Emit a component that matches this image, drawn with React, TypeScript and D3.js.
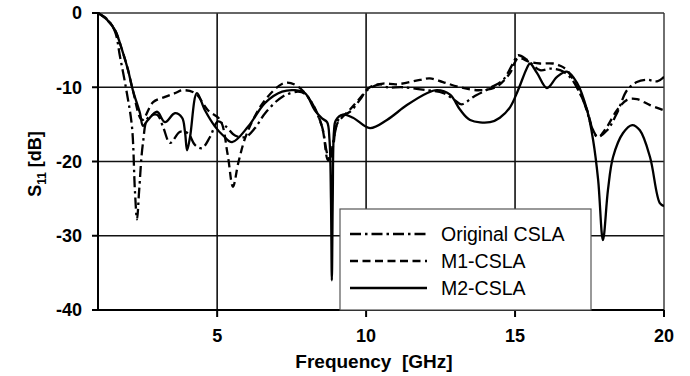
import React from "react";
import * as d3 from "d3";

// Frequency [GHz], S11 [dB]
const originalF = [1.0, 1.3, 1.57, 1.74, 1.97, 2.14, 2.24, 2.31, 2.38, 2.51, 2.68, 2.98, 3.18, 3.42, 3.75, 4.02, 4.26, 4.49, 4.76, 5.03, 5.3, 5.6, 5.95, 6.27, 6.61, 7.18, 7.71, 7.95, 8.18, 8.52, 8.69, 8.79, 8.89, 9.02, 9.12, 9.46, 9.79, 10.03, 10.47, 10.7, 11.24, 12.04, 12.6, 13.0, 13.2, 13.6, 14.16, 14.6, 14.93, 15.1, 15.4, 15.84, 16.17, 16.51, 16.84, 17.28, 17.62, 17.77, 18.09, 18.42, 18.76, 19.09, 19.43, 19.77, 20.0];
const originalS = [0, -0.8, -2.5, -5.9, -10.8, -15.3, -24, -27.8, -24, -17.5, -14.1, -13.7, -15.3, -17.5, -16, -16.2, -17.8, -18.2, -16.7, -14.6, -15.3, -16.5, -16.7, -15.5, -13.5, -11.3, -10.6, -10.9, -12.1, -15.3, -18.9, -19.8, -17.5, -15, -14, -13.3, -11.7, -10.4, -9.6, -10, -10, -10.4, -10.8, -11.8, -12.3, -11.3, -10.1, -9.0, -6.8, -5.7, -6.3, -7.7, -7.5, -7.7, -8.6, -11.7, -15.8, -16.7, -15.8, -13.5, -10.4, -9.3, -9.0, -9.2, -8.6];

const m1F = [1.0, 1.3, 1.57, 1.81, 2.01, 2.17, 2.48, 2.85, 3.25, 3.58, 3.85, 4.26, 4.69, 5.1, 5.35, 5.53, 5.72, 6.0, 6.61, 7.28, 7.71, 8.18, 8.52, 8.72, 8.89, 9.02, 9.46, 9.79, 10.13, 10.57, 11.04, 11.81, 12.14, 12.58, 13.15, 13.82, 14.39, 14.83, 15.1, 15.5, 15.84, 16.27, 16.51, 16.74, 17.08, 17.42, 17.62, 17.79, 18.09, 18.42, 18.76, 19.09, 19.53, 20.0];
const m1S = [0, -0.9, -2.3, -5, -7.7, -10.4, -14.4, -12, -11.3, -10.8, -10.4, -10.8, -13.1, -14.4, -19, -23.4, -20, -16.2, -11.7, -9.4, -9.9, -12.1, -15.3, -19.8, -18, -15, -13, -11.5, -10, -9.5, -9.6, -9.0, -8.8, -9.3, -10, -10.4, -9.9, -8.1, -6.1, -6.6, -6.8, -6.8, -7.1, -7.7, -10, -13.1, -15.8, -16.7, -15.3, -13.1, -11.7, -11.6, -12.4, -13.1];

const m2F = [1.0, 1.3, 1.57, 1.81, 2.01, 2.17, 2.41, 2.51, 2.68, 2.98, 3.25, 3.58, 3.82, 3.92, 3.99, 4.09, 4.32, 4.59, 4.93, 5.2, 5.5, 6.04, 6.61, 7.18, 7.61, 7.95, 8.28, 8.52, 8.69, 8.77, 8.82, 8.85, 8.88, 8.92, 8.98, 9.22, 9.56, 10.13, 10.7, 11.37, 12.04, 12.38, 12.82, 13.15, 13.49, 14.16, 14.49, 14.83, 15.1, 15.4, 15.5, 15.74, 16.07, 16.41, 16.74, 17.08, 17.42, 17.62, 17.79, 17.95, 18.12, 18.29, 18.62, 18.93, 19.19, 19.53, 19.86, 20.0];
const m2S = [0, -0.9, -2.3, -5, -7.7, -10.4, -13.5, -15.2, -14.4, -13.3, -14.7, -13.5, -14.1, -16, -18.5, -16.7, -10.8, -13.1, -15.3, -16.5, -17.4, -15.3, -12.1, -10.6, -10.4, -10.8, -13.1, -14.2, -14.7, -17, -25, -36, -25, -16, -14.5, -13.7, -14.1, -15.5, -14.4, -12.4, -10.8, -10.4, -11, -13, -14.4, -14.7, -14.1, -12.7, -10.4, -7.4, -6.8, -8.1, -10.1, -8.6, -7.9, -9.4, -13.1, -17.1, -22.5, -30.6, -23.8, -19.4, -16.2, -15.1, -15.8, -19.4, -25.6, -26];

const seriesNames = ["Original CSLA", "M1-CSLA", "M2-CSLA"];
const xTicks = [5, 10, 15, 20];
const yTicks = [0, -10, -20, -30, -40];

const W = 690, H = 376;
const L = 98, R = 664, T = 13, B = 310;

export default function App() {
  const x = d3.scaleLinear().domain([1, 20]).range([L, R]);
  const y = d3.scaleLinear().domain([-40, 0]).range([B, T]);
  const line = d3
    .line<[number, number]>()
    .x((d) => x(d[0]))
    .y((d) => y(d[1]))
    .curve(d3.curveCatmullRom.alpha(0.5));
  const zip = (f: number[], s: number[]) => f.map((v, i) => [v, s[i]] as [number, number]);
  const data = [zip(originalF, originalS), zip(m1F, m1S), zip(m2F, m2S)];
  const dashes = ["11,4,2.5,4", "8,4.5", "none"];
  const font = "'Liberation Sans', Arial, sans-serif";

  return (
    <svg width={W} height={H} style={{ position: "absolute", left: 0, top: 0, background: "#fff" }}>
      <defs>
        <clipPath id="plot">
          <rect x={L} y={T - 2} width={R - L} height={B - T + 2} />
        </clipPath>
      </defs>
      <rect x={0} y={0} width={W} height={H} fill="#fff" />
      {/* grid */}
      {yTicks.filter((t) => t !== 0 && t !== -40).map((t) => (
        <line key={"gy" + t} x1={L} x2={R} y1={y(t)} y2={y(t)} stroke="#111" strokeWidth={1.6} />
      ))}
      {xTicks.filter((t) => t !== 20).map((t) => (
        <line key={"gx" + t} x1={x(t)} x2={x(t)} y1={T} y2={B} stroke="#111" strokeWidth={1.6} />
      ))}
      {/* frame top/right */}
      <line x1={L} x2={R} y1={T} y2={T} stroke="#333" strokeWidth={1.4} />
      <line x1={R} x2={R} y1={T} y2={B} stroke="#333" strokeWidth={1.4} />
      {/* curves */}
      <g clipPath="url(#plot)">
        {data.map((d, i) => (
          <path key={i} d={line(d) || ""} fill="none" stroke="#000" strokeWidth={2.3}
            strokeDasharray={dashes[i]} strokeLinejoin="round" />
        ))}
      </g>
      {/* axes */}
      <line x1={L} x2={L} y1={T} y2={B} stroke="#000" strokeWidth={2} />
      <line x1={L} x2={R} y1={B} y2={B} stroke="#000" strokeWidth={2} />
      {yTicks.map((t) => (
        <g key={"yt" + t}>
          <line x1={L - 6} x2={L} y1={y(t)} y2={y(t)} stroke="#000" strokeWidth={2} />
          <text x={82} y={y(t)} dy="0.36em" textAnchor="end" fontFamily={font} fontWeight="bold" fontSize={18}>
            {t === 0 ? "0" : "-" + Math.abs(t)}
          </text>
        </g>
      ))}
      {xTicks.map((t) => (
        <g key={"xt" + t}>
          <line x1={x(t)} x2={x(t)} y1={B} y2={B + 7} stroke="#000" strokeWidth={2} />
          <text x={x(t)} y={342} textAnchor="middle" fontFamily={font} fontWeight="bold" fontSize={18}>
            {t}
          </text>
        </g>
      ))}
      <text x={374} y={368} textAnchor="middle" fontFamily={font} fontWeight="bold" fontSize={19} xmlSpace="preserve">
        Frequency  [GHz]
      </text>
      <text transform={`translate(41,164) rotate(-90)`} textAnchor="middle" fontFamily={font} fontWeight="bold" fontSize={18} xmlSpace="preserve">
        S<tspan fontSize={12} dy={5}>11</tspan><tspan dy={-5}> [dB]</tspan>
      </text>
      {/* legend */}
      <rect x={340} y={209} width={251} height={101} fill="#fff" stroke="#555" strokeWidth={1.2} />
      {seriesNames.map((n, i) => {
        const yy = 234 + i * 27;
        return (
          <g key={n}>
            <line x1={350} x2={427} y1={yy} y2={yy} stroke="#000" strokeWidth={2.3} strokeDasharray={dashes[i]} />
            <text x={441} y={yy} dy="0.36em" fontFamily={font} fontSize={19.5}>
              {n}
            </text>
          </g>
        );
      })}
    </svg>
  );
}
